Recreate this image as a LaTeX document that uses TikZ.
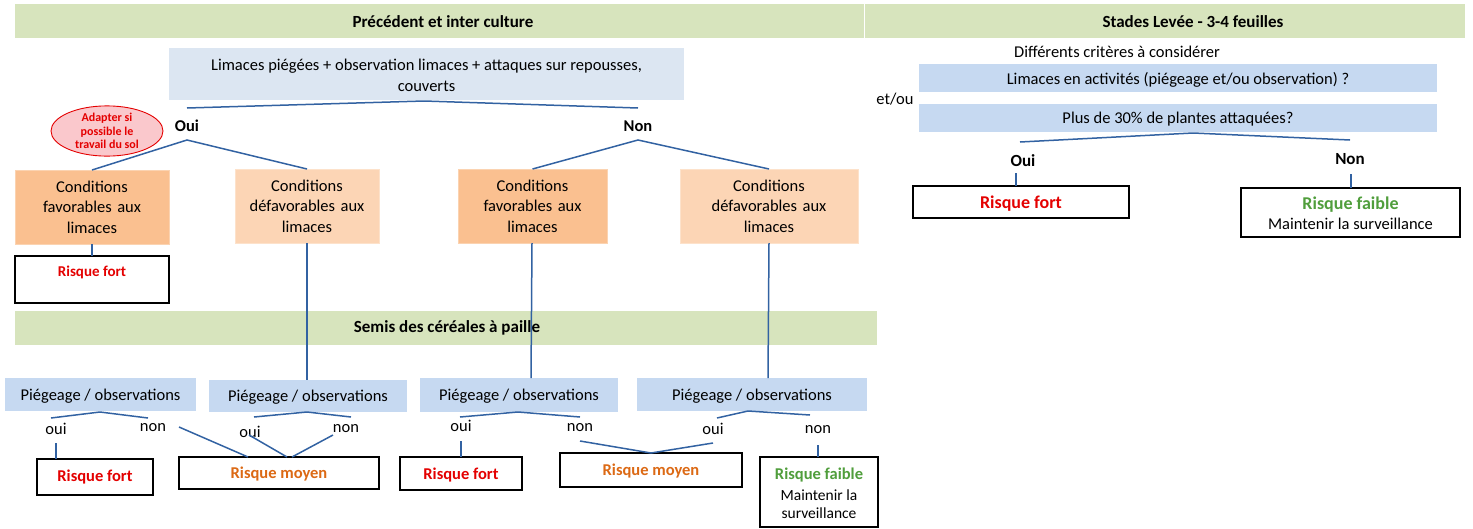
\documentclass[tikz,border=0pt]{standalone}
\usepackage{fontspec}
\setmainfont{Carlito}
\usetikzlibrary{shapes.geometric}
\definecolor{bandgreen}{RGB}{215,228,189}
\definecolor{lightq}{RGB}{220,230,242}
\definecolor{midblue}{RGB}{198,217,241}
\definecolor{orD}{RGB}{250,192,144}
\definecolor{orL}{RGB}{252,213,181}
\definecolor{lineblue}{RGB}{50,98,162}
\definecolor{rtxt}{RGB}{228,0,0}
\definecolor{otxt}{RGB}{220,105,20}
\definecolor{gtxt}{RGB}{80,158,60}
\definecolor{pinkfill}{RGB}{250,200,204}
\tikzset{
  band/.style={fill=bandgreen, inner sep=0pt, outer sep=0pt},
  boxq/.style={fill=lightq, inner sep=0pt, outer sep=0pt},
  boxp/.style={fill=midblue, inner sep=0pt, outer sep=0pt},
  favbox/.style={fill=orD, draw=orD!70!white, line width=0.6pt, inner sep=0pt, outer sep=0pt},
  defbox/.style={fill=orL, draw=orL!70!white, line width=0.6pt, inner sep=0pt, outer sep=0pt},
  risk/.style={draw=black, line width=1.7pt, fill=white, inner sep=0pt, outer sep=0pt},
  txt/.style={font=\fontsize{16.5}{20.5}\selectfont, inner sep=0pt, align=center},
  btxt/.style={font=\bfseries\fontsize{16.5}{20.5}\selectfont, inner sep=0pt, align=center},
  hdr/.style={font=\bfseries\fontsize{17}{20}\selectfont, inner sep=0pt},
  rk/.style={font=\bfseries\fontsize{16.5}{20}\selectfont, inner sep=0pt},
  rkbig/.style={font=\bfseries\fontsize{18}{20}\selectfont, inner sep=0pt},
  conn/.style={draw=lineblue, line width=1.5pt},
}
\begin{document}
\begin{tikzpicture}[x=1pt,y=-1pt]
\useasboundingbox (0,0) rectangle (1473,528);
% bands
\node[band, minimum width=849, minimum height=34] (band1) at (439.5,21) {};
\node[hdr] (band1t) at (443,22) {Précédent et inter culture};
\node[band, minimum width=600, minimum height=34] (band2) at (1165,21) {};
\node[hdr] (band2t) at (1193,22) {Stades Levée - 3-4 feuilles};
\node[band, minimum width=862, minimum height=34] (band3) at (446,328) {};
\node[hdr] (band3t) at (447,328) {Semis des céréales à paille};
% top question
\node[boxq, minimum width=515, minimum height=52] (top) at (426.5,74) {};
\node[txt] (topt) at (426.5,75.5) {Limaces piégées + observation limaces + attaques sur repousses,\\couverts};
% ellipse
\node[ellipse, draw=rtxt, line width=0.9pt, fill=pinkfill, minimum width=112, minimum height=48, inner sep=0pt, align=center, text=rtxt, font=\bfseries\fontsize{12}{13.5}\selectfont] (ell) at (107,131) {Adapter si\\possible le\\travail du sol};
% top fork
\coordinate (tL) at (187,108);
\coordinate (tA) at (424,101);
\coordinate (tR) at (638,108);
\draw[conn] (tL) -- (tA) -- (tR);
\node[btxt] (oui0) at (187,126) {Oui};
\node[btxt] (non0) at (638,126) {Non};
\coordinate (ouiA) at (187,140);
\coordinate (nonA) at (638,140);
% conditions boxes
\node[favbox, minimum width=154, minimum height=74, txt, text width=150] (A) at (92,207) {Conditions\\favorables aux\\limaces};
\node[defbox, minimum width=144, minimum height=74, txt, text width=140] (B) at (307,206) {Conditions\\défavorables aux\\limaces};
\node[favbox, minimum width=149, minimum height=74, txt, text width=145] (C) at (532.5,206) {Conditions\\favorables aux\\limaces};
\node[defbox, minimum width=178, minimum height=74, txt, text width=174] (D) at (769,206) {Conditions\\défavorables aux\\limaces};
\draw[conn] (A.north) -- (ouiA) -- (B.north);
\draw[conn] (C.north) -- (nonA) -- (D.north);
% risque fort under A
\node[risk, minimum width=154, minimum height=47] (RF0) at (92,279.5) {};
\node[font=\bfseries\fontsize{15}{18}\selectfont, text=rtxt, inner sep=0pt] (RF0t) at (92,272) {Risque fort};
\draw[conn] (A.south) -- (RF0.north);
% piegeage boxes
\node[boxp, minimum width=191, minimum height=33] (P1) at (100.5,394.5) {};
\node[boxp, minimum width=198, minimum height=32] (P2) at (308,396) {};
\node[boxp, minimum width=198, minimum height=34] (P3) at (519,395) {};
\node[boxp, minimum width=230, minimum height=33] (P4) at (752,394.5) {};
\node[txt] (P1t) at (100.5,396) {Piégeage / observations};
\node[txt] (P2t) at (308,397) {Piégeage / observations};
\node[txt] (P3t) at (519,396) {Piégeage / observations};
\node[txt] (P4t) at (752,396) {Piégeage / observations};
% verticals from conditions
\coordinate (P2top) at (307,380);
\coordinate (P3top) at (531,378);
\coordinate (P4top) at (768,378);
\coordinate (Cbot) at (532,243);
\draw[conn] (B.south) -- (P2top);
\draw[conn] (Cbot) -- (P3top);
\draw[conn] (D.south) -- (P4top);
% forks under P boxes
\coordinate (p1l) at (51,418); \coordinate (p1a) at (100,412); \coordinate (p1r) at (148,418);
\coordinate (p2l) at (254,417); \coordinate (p2a) at (307,412); \coordinate (p2r) at (351,417);
\coordinate (p3l) at (460,417); \coordinate (p3a) at (518,412); \coordinate (p3r) at (580,417);
\coordinate (p4l) at (717,418); \coordinate (p4a) at (748,411); \coordinate (p4r) at (810,415);
\draw[conn] (p1l) -- (p1a) -- (p1r);
\draw[conn] (p2l) -- (p2a) -- (p2r);
\draw[conn] (p3l) -- (p3a) -- (p3r);
\draw[conn] (p4l) -- (p4a) -- (p4r);
\node[txt] (o1) at (56,429) {oui};
\node[txt] (n1) at (153,428) {non};
\node[txt] (o2) at (250,432) {oui};
\node[txt] (n2) at (346,429) {non};
\node[txt] (o3) at (461,426) {oui};
\node[txt] (n3) at (580,428) {non};
\node[txt] (o4) at (713,429) {oui};
\node[txt] (n4) at (818,430) {non};
% risk boxes bottom
\node[risk, minimum width=116, minimum height=36] (RF1) at (95,477) {};
\node[rk, text=rtxt] (RF1t) at (95,477) {Risque fort};
\node[risk, minimum width=200, minimum height=32] (RM1) at (279,473) {};
\node[rk, text=otxt] (RM1t) at (279,474) {Risque moyen};
\node[risk, minimum width=122, minimum height=33] (RF2) at (461,473.5) {};
\node[rk, text=rtxt] (RF2t) at (461,475) {Risque fort};
\node[risk, minimum width=182, minimum height=34] (RM2) at (651,470) {};
\node[rk, text=otxt] (RM2t) at (651,471) {Risque moyen};
\node[risk, minimum width=118, minimum height=70] (RFb) at (819,492) {};
\node[rk, text=gtxt] (RFbt) at (819,475) {Risque faible};
\node[txt, font=\fontsize{15.5}{18.5}\selectfont] (RFbs) at (819,504) {Maintenir la\\surveillance};
% bottom connections
\coordinate (c1a) at (56,443);   \coordinate (c1b) at (56,459);
\coordinate (c2a) at (179,427);  \coordinate (c2b) at (248,457);
\coordinate (c3a) at (249,435);  \coordinate (c3b) at (287,457);
\coordinate (c4a) at (333,435);  \coordinate (c4b) at (292,457);
\coordinate (c5a) at (461,441);  \coordinate (c5b) at (461,457);
\coordinate (c6a) at (580,441);  \coordinate (c6b) at (651,453);
\coordinate (c7a) at (713,443);
\coordinate (c8a) at (818,445);  \coordinate (c8b) at (818,457);
\draw[conn] (c1a) -- (c1b);
\draw[conn] (c2a) -- (c2b);
\draw[conn] (c3a) -- (c3b);
\draw[conn] (c4a) -- (c4b);
\draw[conn] (c5a) -- (c5b);
\draw[conn] (c6a) -- (c6b) -- (c7a);
\draw[conn] (c8a) -- (c8b);
% right part
\node[txt] (crit) at (1117,52) {Différents critères à considérer};
\node[boxp, minimum width=518, minimum height=28] (Q1) at (1178,78) {};
\node[txt] (Q1t) at (1178,79.5) {Limaces en activités (piégeage et/ou observation) ?};
\node[boxp, minimum width=518, minimum height=28] (Q2) at (1178,118) {};
\node[txt] (Q2t) at (1178,119.5) {Plus de 30\% de plantes attaquées?};
\node[txt] (etou) at (895,99) {et/ou};
\coordinate (rl) at (1020,142); \coordinate (ra) at (1193,133); \coordinate (rr) at (1350,140);
\draw[conn] (rl) -- (ra) -- (rr);
\node[btxt, font=\bfseries\fontsize{17}{20}\selectfont] (ouiR) at (1023,161) {Oui};
\node[btxt, font=\bfseries\fontsize{17}{20}\selectfont] (nonR) at (1350,159) {Non};
\node[risk, minimum width=216, minimum height=32] (RFr) at (1021,202) {};
\node[rkbig, text=rtxt] (RFrt) at (1021,203.5) {Risque fort};
\node[risk, minimum width=219, minimum height=49] (RFbr) at (1350.5,212.5) {};
\node[rkbig, text=gtxt] (RFbrt) at (1350.5,205) {Risque faible};
\node[txt] (RFbrs) at (1350.5,224) {Maintenir la surveillance};
\coordinate (rv1) at (1016,173);
\coordinate (rv2) at (1351,174);
\draw[conn] (rv1) -- (RFr.north -| rv1);
\draw[conn] (rv2) -- (RFbr.north -| rv2);
\end{tikzpicture}
\end{document}
